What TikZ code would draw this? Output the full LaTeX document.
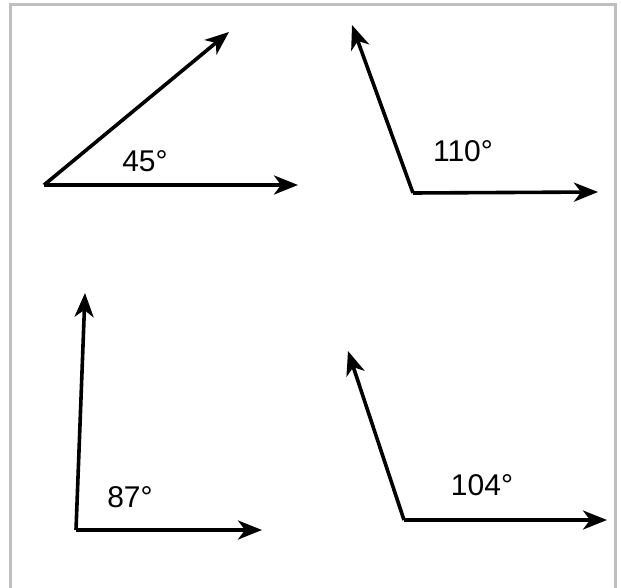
\documentclass[tikz,border=0pt]{standalone}
\usepackage{fontspec}
\setmainfont{Liberation Sans}
\usetikzlibrary{arrows.meta}
\begin{document}
\begin{tikzpicture}[x=1pt,y=-1pt,
  ray/.style={line width=3.6pt,-{Stealth[length=24pt,width=19pt,inset=7pt]}},
  lbl/.style={font=\fontsize{30}{35}\selectfont,inner sep=0pt},
  frame/.style={draw=black!25,line width=3pt}]
\useasboundingbox (0,0) rectangle (621,588);
\draw[frame] (10,5) rectangle (615,600);
% angle 45
\coordinate (v1) at (44,185);
\coordinate (a1) at (298,185);
\coordinate (b1) at (229,32);
\draw[ray] (v1) -- (a1);
\draw[ray] (v1) -- (b1);
\node[lbl] (l1) at (145,161) {45°};
% angle 110
\coordinate (v2) at (413,193);
\coordinate (a2) at (598,192);
\coordinate (b2) at (352,25);
\draw[ray] (v2) -- (a2);
\draw[ray] (v2) -- (b2);
\node[lbl] (l2) at (463,151) {110°};
% angle 87
\coordinate (v3) at (76,530);
\coordinate (a3) at (262,530);
\coordinate (b3) at (85,293);
\draw[ray] (v3) -- (a3);
\draw[ray] (v3) -- (b3);
\node[lbl] (l3) at (130,497) {87°};
% angle 104
\coordinate (v4) at (404,520);
\coordinate (a4) at (607,520);
\coordinate (b4) at (348,351);
\draw[ray] (v4) -- (a4);
\draw[ray] (v4) -- (b4);
\node[lbl] (l4) at (482,485) {104°};
\end{tikzpicture}
\end{document}
